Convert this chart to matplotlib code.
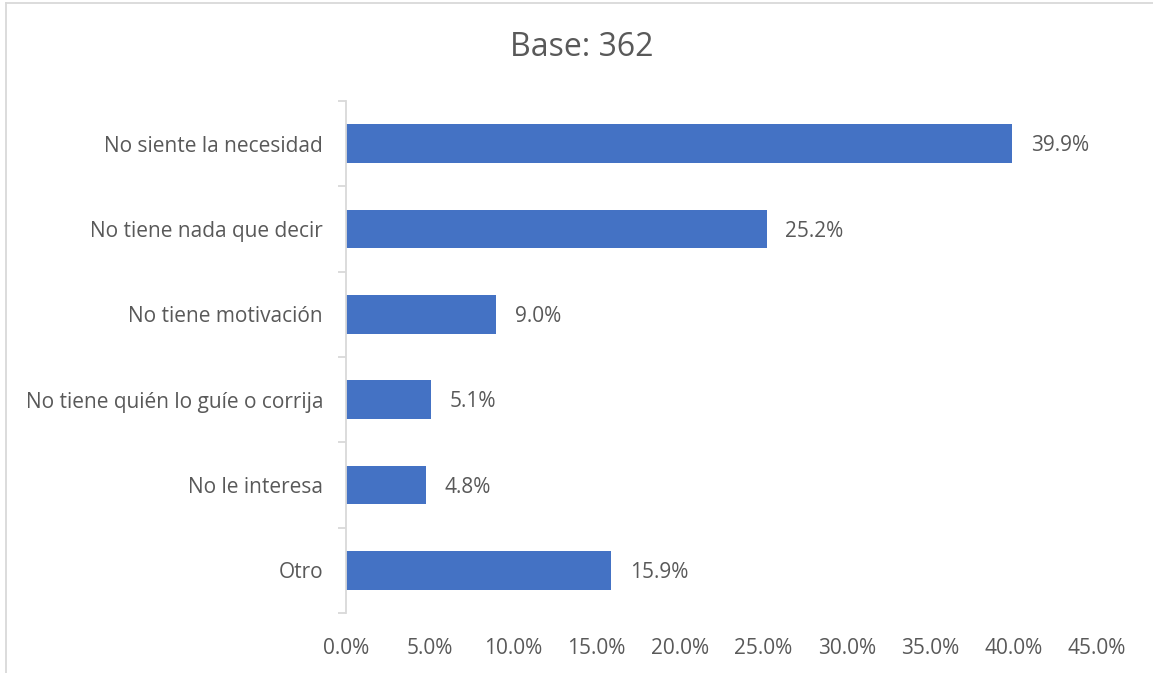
import matplotlib.pyplot as plt
from matplotlib.lines import Line2D

# survey reasons, top to bottom
categories = ['No siente la necesidad', 'No tiene nada que decir', 'No tiene motivación',
              'No tiene quién lo guíe o corrija', 'No le interesa', 'Otro']
values = [39.9, 25.2, 9.0, 5.1, 4.8, 15.9]
xticks = [0, 5, 10, 15, 20, 25, 30, 35, 40, 45]

plt.rcParams['font.family'] = ['Open Sans', 'DejaVu Sans']
txt = '#595959'
bar_col = '#4472C4'
axis_col = '#D9D9D9'
fs = 15

fig = plt.figure(figsize=(11.53, 6.73), dpi=100)
ax = fig.add_axes([346/1153, 1 - 613/673, (1097 - 346)/1153, (613 - 101)/673])

ypos = list(range(len(categories)))[::-1]
ax.barh(ypos, values, height=0.45, color=bar_col, zorder=2)
for y, v in zip(ypos, values):
    ax.annotate(f'{v:.1f}%', (v, y), xytext=(13.5, -1.5), textcoords='offset points',
                va='center', ha='left', fontsize=fs, color=txt)

ax.set_xlim(0, 45)
ax.set_ylim(-0.5, len(categories) - 0.5)
ax.set_xticks(xticks)
ax.set_xticklabels([f'{t:.1f}%' for t in xticks], fontsize=fs, color=txt)
ax.tick_params(axis='x', length=0, pad=18)

ax.set_yticks(ypos)
ax.set_yticklabels(categories, fontsize=fs, color=txt)
ax.tick_params(axis='y', length=0, pad=16.5)
# category separators on the value axis
ax.set_yticks([i - 0.5 for i in range(len(categories) + 1)], minor=True)
ax.tick_params(axis='y', which='minor', length=6, width=1.3, color=axis_col)

for s in ['top', 'right', 'bottom']:
    ax.spines[s].set_visible(False)
ax.spines['left'].set_color(axis_col)
ax.spines['left'].set_linewidth(1.3)

fig.text(582/1153, 1 - 47/673, 'Base: 362', ha='center', va='center', fontsize=23, color=txt)

# chart frame
fig.add_artist(Line2D([6/1153, 6/1153], [0, 1 - 3/673], transform=fig.transFigure, color=axis_col, lw=1.3))
fig.add_artist(Line2D([6/1153, 1], [1 - 3/673, 1 - 3/673], transform=fig.transFigure, color=axis_col, lw=1.3))

fig.savefig('out.png', dpi=100)
